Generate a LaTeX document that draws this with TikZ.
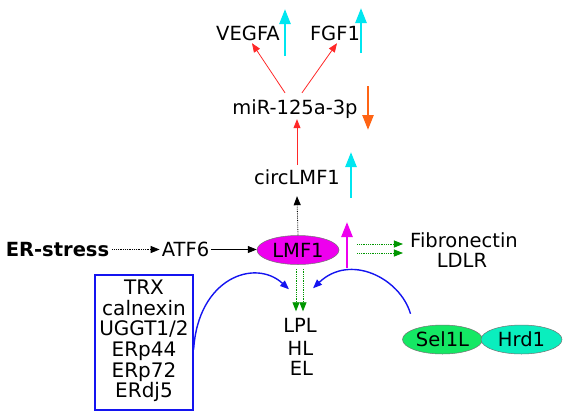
\documentclass[tikz,border=0pt]{standalone}
\usepackage{fontspec}
\setmainfont{DejaVu Sans}
\usetikzlibrary{arrows.meta,shapes.geometric}
\definecolor{cyanarr}{RGB}{0,230,240}
\definecolor{orangearr}{RGB}{255,100,20}
\definecolor{magfill}{RGB}{238,0,238}
\definecolor{redarr}{RGB}{255,40,40}
\definecolor{greenarr}{RGB}{0,150,0}
\definecolor{selfill}{RGB}{20,232,100}
\definecolor{hrdfill}{RGB}{10,238,190}
\definecolor{bluearr}{RGB}{20,20,240}
\begin{document}
\begin{tikzpicture}[x=1pt,y=-1pt,
  lbl/.style={font=\fontsize{19.5}{21}\selectfont, inner sep=0pt, text height=14pt, text depth=0pt},
  thinarr/.style={-{Triangle[length=9pt,width=7pt]}, line width=0.8pt},
  bigarr/.style={-{Triangle[length=15pt,width=11pt]}, line width=2.6pt},
  dotarr/.style={thinarr, densely dotted},
  bluecurve/.style={thinarr, bluearr, line width=1.4pt},
  ell/.style={ellipse, draw=black!55, line width=0.5pt, inner sep=0pt, minimum height=29pt, font=\fontsize{19.5}{21}\selectfont}]
\useasboundingbox (0,0) rectangle (571,416);

% nodes
\node[lbl] (vegfa) at (248,33) {VEGFA};
\node[lbl] (fgf1) at (335,33) {FGF1};
\node[lbl] (mir) at (295,107) {miR-125a-3p};
\node[lbl] (circ) at (297,177) {circLMF1};
\node[lbl, font=\fontsize{19.5}{21}\selectfont\bfseries] (er) at (57.5,249.5) {ER-stress};
\node[lbl] (atf6) at (185.5,249.5) {ATF6};
\node[ell, fill=magfill, minimum width=82pt] (lmf1) at (298,250) {LMF1};
\node[lbl] (fib) at (464,240) {Fibronectin};
\node[lbl] (ldlr) at (462,260) {LDLR};
\node[lbl] (lpl) at (300,325.5) {LPL};
\node[lbl] (hl) at (300.5,348) {HL};
\node[lbl] (el) at (301.5,368.5) {EL};
\node[ell, fill=selfill, minimum width=80pt] (sel) at (442.5,339.5) {Sel1L};
\node[ell, fill=hrdfill, minimum width=81pt] (hrd) at (521.5,339.5) {Hrd1};
\node[draw=bluearr, line width=1.3pt, minimum width=98pt, minimum height=135pt, inner sep=0pt] (box) at (144,342.5) {};
\node[inner sep=0pt, align=center, font=\fontsize{20}{20.6}\selectfont] (boxtext) at (144,341) {TRX\\calnexin\\UGGT1/2\\ERp44\\ERp72\\ERdj5};

% indicator arrows
\coordinate (c1a) at (285,56); \coordinate (c1b) at (285,9);
\coordinate (c2a) at (361,53); \coordinate (c2b) at (361,8);
\coordinate (c3a) at (351,198); \coordinate (c3b) at (351,152);
\coordinate (o1a) at (368,86); \coordinate (o1b) at (368,130);
\coordinate (m1a) at (347,268); \coordinate (m1b) at (347,222);
\draw[bigarr, cyanarr] (c1a) -- (c1b);
\draw[bigarr, cyanarr] (c2a) -- (c2b);
\draw[bigarr, cyanarr] (c3a) -- (c3b);
\draw[bigarr, orangearr] (o1a) -- (o1b);
\draw[bigarr, magfill] (m1a) -- (m1b);

% connectors
\draw[thinarr, redarr] ([shift={(-10,-7)}]mir.north) -- ([shift={(4,3)}]vegfa.south);
\draw[thinarr, redarr] ([shift={(7,-7)}]mir.north) -- ([shift={(2,3)}]fgf1.south);
\draw[thinarr, redarr] ([shift={(0,-5)}]circ.north) -- ([shift={(2,5)}]mir.south);
\draw[dotarr, black] (lmf1.north) -- ([shift={(0,12)}]circ.south);
\draw[dotarr, black] ([xshift=3pt]er.east) -- ([xshift=-2pt]atf6.west);
\draw[thinarr, black] ([xshift=2pt]atf6.east) -- (atf6.east -| lmf1.west);
\draw[dotarr, greenarr] ([shift={(18,-6)}]lmf1.east) -- ([shift={(-7,4)}]fib.west);
\draw[dotarr, greenarr] ([shift={(18,3)}]lmf1.east) -- ([shift={(-7,13)}]fib.west);
\draw[dotarr, greenarr] ([shift={(-2,4)}]lmf1.south) -- ([shift={(-4,-7)}]lpl.north);
\draw[dotarr, greenarr] ([shift={(5,4)}]lmf1.south) -- ([shift={(3,-7)}]lpl.north);
\draw[bluecurve] ([yshift=-7pt]box.east) .. controls (198,278) and (255,258) .. ([shift={(-11,-29)}]lpl.north);
\draw[bluecurve] ([shift={(-32,-11)}]sel.north) .. controls (400,278) and (350,253) .. ([shift={(13,-30)}]lpl.north);
\end{tikzpicture}
\end{document}
